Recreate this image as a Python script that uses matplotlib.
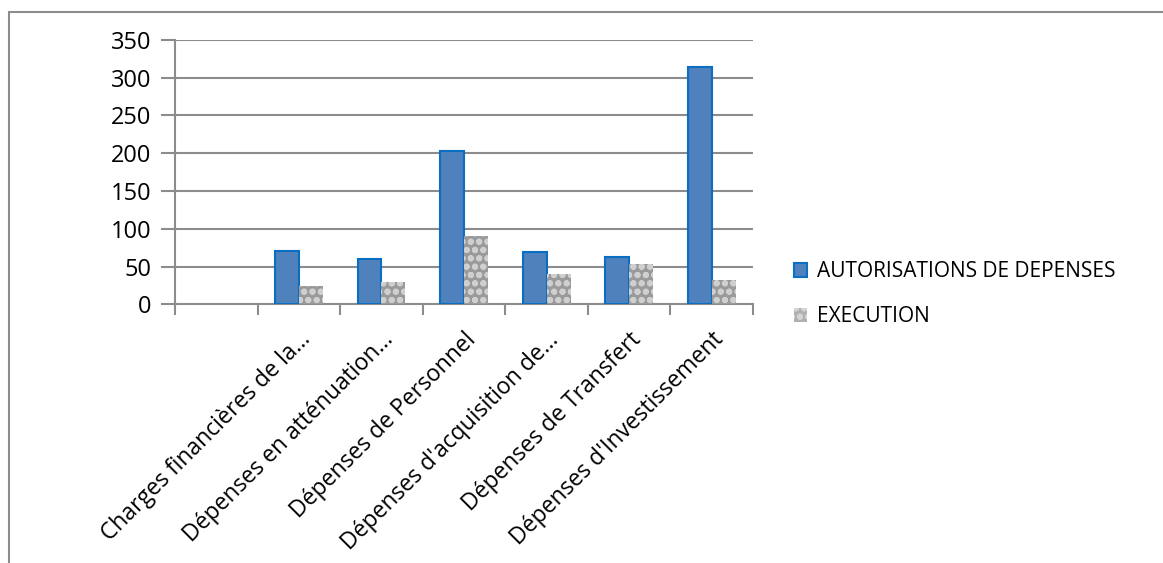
import numpy as np
import matplotlib
matplotlib.use("Agg")
import matplotlib.pyplot as plt
from matplotlib.patches import Rectangle, Patch

categories = ["", "Charges financières de la…", "Dépenses en atténuation…",
              "Dépenses de Personnel", "Dépenses d'acquisition de…",
              "Dépenses de Transfert", "Dépenses d'Investissement"]
autorisations = [np.nan, 71, 60, 203, 69, 63, 314]
execution = [np.nan, 24, 30, 91, 40, 53, 32]
yticks = [0, 50, 100, 150, 200, 250, 300, 350]

plt.rcParams['font.family'] = ['Open Sans', 'DejaVu Sans']
plt.rcParams['hatch.linewidth'] = 2.0

fig = plt.figure(figsize=(11.63, 5.63), dpi=100)
ax = fig.add_axes([0.1505, 0.4595, 0.497, 0.4695])

x = np.arange(len(categories))
w = 0.29
ax.bar(x - w / 2, autorisations, w, color='#4f81bd', edgecolor='#0a6fc2',
       linewidth=1.5, label='AUTORISATIONS DE DEPENSES', zorder=3)
ax.bar(x + w / 2, execution, w, color='#9a9a9a', edgecolor='#cfcfcf',
       hatch='oo', linewidth=0, label='EXECUTION', zorder=3)

ax.set_xlim(-0.5, len(categories) - 0.5)
ax.set_ylim(0, 350)
ax.set_yticks(yticks)
ax.yaxis.grid(True, color='#8c8c8c', linewidth=1.5, zorder=0)
ax.set_axisbelow(True)

for side in ['top', 'right']:
    ax.spines[side].set_visible(False)
for side in ['left', 'bottom']:
    ax.spines[side].set_color('#8c8c8c')
    ax.spines[side].set_linewidth(1.5)

ax.set_xticks(np.arange(len(categories) + 1) - 0.5, minor=False)
ax.set_xticklabels([])
ax.set_xticks(x, minor=True)
ax.set_xticklabels(categories, minor=True, rotation=45, ha='right',
                   va='top', rotation_mode='anchor', fontsize=16.5)
ax.tick_params(axis='x', which='major', length=8, width=1.5, color='#8c8c8c')
ax.tick_params(axis='x', which='minor', length=0, pad=17)
ax.tick_params(axis='y', length=10, width=1.5, color='#8c8c8c', labelsize=17, pad=7)

handles = [Patch(facecolor='#4f81bd', edgecolor='#0a6fc2', linewidth=1.5),
           Patch(facecolor='#b0b0b0', edgecolor='#d4d4d4', hatch='oo', linewidth=0)]
fig.legend(handles, ['AUTORISATIONS DE DEPENSES', 'EXECUTION'],
           loc='upper left', bbox_to_anchor=(0.667, 0.569), frameon=False,
           fontsize=15, handlelength=0.6, handleheight=0.6, handletextpad=0.5,
           labelspacing=1.15)

fig.patches.append(Rectangle((9 / 1163, -0.1), 1.2, 1.1 - 12 / 563,
                             transform=fig.transFigure, fill=False,
                             edgecolor='#8c8c8c', linewidth=1.5))

fig.savefig('out.png', dpi=100)
